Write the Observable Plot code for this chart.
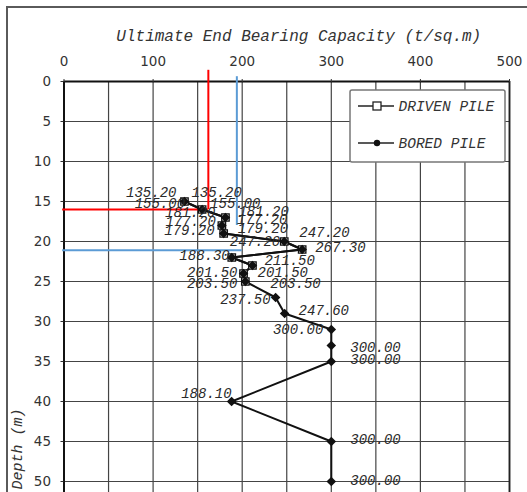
<!DOCTYPE html>
<html><head><meta charset="utf-8">
<script src="https://cdn.jsdelivr.net/npm/d3@7"></script>
<script src="https://cdn.jsdelivr.net/npm/@observablehq/plot@0.6"></script>
<style>
html,body{margin:0;padding:0;background:#fff;}
#wrap{position:relative;width:527px;height:492px;overflow:hidden;background:#fff;}
#border{position:absolute;left:6px;top:6px;width:700px;height:700px;border:2px solid #5a5a5a;}
#chart{position:absolute;left:0;top:0;}
#legend{position:absolute;left:349px;top:89px;}
#ylabel{position:absolute;left:18px;top:449px;transform:translate(-50%,-50%) rotate(-90deg);
  font-family:"Liberation Mono",monospace;font-style:italic;font-size:15px;color:#333;white-space:nowrap;line-height:1;}
</style></head>
<body><div id="wrap"><div id="border"></div><div id="chart"></div><div id="legend"></div><div id="ylabel"></div></div>
<script>
// ---- data ----
const capacityTicks = [0, 100, 200, 300, 400, 500];
const depthTicks = [0, 5, 10, 15, 20, 25, 30, 35, 40, 45, 50];
const capacityGrid = [0, 50, 100, 150, 200, 250, 300, 350, 400, 450, 500];
const depthGrid = [0, 5, 10, 15, 20, 25, 30, 35, 40, 45, 50];

const boredDepth = [15, 16, 17, 18, 19, 20, 21, 22, 23, 24, 25, 27, 29, 31, 33, 35, 40, 45, 50];
const boredCapacity = [135.2, 155.0, 181.2, 177.2, 179.2, 247.2, 267.3, 188.3, 211.5, 201.5, 203.5, 237.5, 247.6, 300.0, 300.0, 300.0, 188.1, 300.0, 300.0];
const drivenDepth = [15, 16, 17, 18, 19, 20, 21, 22, 23, 24, 25];
const drivenCapacity = [135.2, 155.0, 181.2, 177.2, 179.2, 247.2, 267.3, 188.3, 211.5, 201.5, 203.5];

const leftLabelDepths = [15, 16, 17, 18, 19, 20, 22, 24, 25, 27, 31, 40];
const rightLabelDepths = [15, 16, 17, 18, 19, 20, 21, 23, 24, 25, 29, 33, 35, 45, 50];

// reference guide lines (red, blue)
const redGuideCapacity = [162];
const redGuideDepthRange = [-1.4, 16];
const redGuideDepth = [16];
const blueGuideCapacity = [194];
const blueGuideDepthRange = [-0.6, 18];
const blueGuideDepth = [21.1];
const blueGuideCapacityEnd = [200];

const titleText = "Ultimate End Bearing Capacity (t/sq.m)";
const yLabelText = "Depth (m)";
const seriesNames = ["DRIVEN PILE", "BORED PILE"];

// ---- layout (label nudges in px) ----
const leftNudge = {15:[-8,-9],16:[-17,-6],17:[-10,-5],18:[-6,-4],19:[-9,-3],20:[-4,0],22:[-2,-2],24:[-6,-1],25:[-8,2],27:[-5,2],31:[-8,0],40:[0,-8]};
const rightNudge = {15:[7,-9],16:[8,-6],17:[13,-6],18:[15,-6],19:[14,-5],20:[15,-9],21:[13,-2],23:[12,-5],24:[14,-1],25:[25,2],29:[14,-3],33:[19,2],35:[19,-2],45:[19,-2],50:[19,-1]};

const bored = boredDepth.map((d, i) => ({depth: d, cap: boredCapacity[i]}));
const driven = drivenDepth.map((d, i) => ({depth: d, cap: drivenCapacity[i]}));
const byDepth = new Map(bored.map(p => [p.depth, p]));

const labelFont = {fontFamily: "Liberation Mono, monospace", fontStyle: "italic", fontSize: 14, fill: "#2a2a2a"};

const labelMarks = [];
for (const d of leftLabelDepths) {
  const p = byDepth.get(d);
  const [dx, dy] = leftNudge[d] || [-8, -4];
  labelMarks.push(Plot.text([p], {x: "cap", y: "depth", text: q => q.cap.toFixed(2), textAnchor: "end", dx, dy, ...labelFont}));
}
for (const d of rightLabelDepths) {
  const p = byDepth.get(d);
  const [dx, dy] = rightNudge[d] || [8, -4];
  labelMarks.push(Plot.text([p], {x: "cap", y: "depth", text: q => q.cap.toFixed(2), textAnchor: "start", dx, dy, ...labelFont}));
}

const chart = Plot.plot({
  width: 527, height: 492,
  marginTop: 81, marginLeft: 63.5, marginRight: 18, marginBottom: 0,
  style: {fontFamily: "DejaVu Sans, sans-serif", fontSize: "13.5px", background: "transparent", overflow: "visible"},
  x: {domain: [0, 500]},
  y: {domain: [0, 51.375], reverse: true},
  marks: [
    Plot.ruleX(capacityGrid, {stroke: "#444", strokeWidth: 1.2}),
    Plot.ruleY(depthGrid, {stroke: "#444", strokeWidth: 1.2}),
    Plot.ruleX([capacityGrid[0]], {stroke: "#111", strokeWidth: 2}),
    Plot.ruleX([capacityGrid[capacityGrid.length - 1]], {stroke: "#222", strokeWidth: 1.8}),
    Plot.ruleY([depthGrid[0]], {stroke: "#111", strokeWidth: 2}),
    Plot.axisX({anchor: "top", ticks: capacityTicks, tickSize: 3, tickPadding: 13, label: null, color: "#333", tickFormat: d => String(d)}),
    Plot.axisY({anchor: "left", ticks: depthTicks, tickSize: 3, tickPadding: 10, label: null, color: "#333", tickFormat: d => String(d)}),
    // guides
    Plot.ruleX(redGuideCapacity, {x: d => d, y1: redGuideDepthRange[0], y2: redGuideDepthRange[1], stroke: "#ff0000", strokeWidth: 2}),
    Plot.ruleY(redGuideDepth, {y: d => d, x1: -1.5, x2: redGuideCapacity[0], stroke: "#ff0000", strokeWidth: 2}),
    Plot.ruleX(blueGuideCapacity, {x: d => d, y1: blueGuideDepthRange[0], y2: blueGuideDepthRange[1], stroke: "#5b9bd5", strokeWidth: 2}),
    Plot.ruleY(blueGuideDepth, {y: d => d, x1: -1.5, x2: blueGuideCapacityEnd[0], stroke: "#5b9bd5", strokeWidth: 2}),
    // series
    Plot.line(driven, {x: "cap", y: "depth", stroke: "#111", strokeWidth: 2}),
    Plot.line(bored, {x: "cap", y: "depth", stroke: "#111", strokeWidth: 2}),
    Plot.dot(driven, {x: "cap", y: "depth", symbol: "square", r: 4.2, fill: "white", stroke: "#111", strokeWidth: 1.3}),
    Plot.dot(bored, {x: "cap", y: "depth", symbol: "diamond2", r: 4.3, fill: "#111"}),
    ...labelMarks,
    Plot.text([titleText], {text: d => d, frameAnchor: "top", lineAnchor: "middle", dx: 12, dy: -46, fontFamily: "Liberation Mono, monospace", fontStyle: "italic", fontSize: 16, fill: "#333"})
  ]
});
document.getElementById("chart").appendChild(chart);
document.getElementById("ylabel").textContent = yLabelText;

// legend
const lg = d3.select("#legend").append("svg").attr("width", 157).attr("height", 74);
lg.append("rect").attr("x", 1).attr("y", 1).attr("width", 155).attr("height", 72).attr("rx", 2)
  .attr("fill", "white").attr("stroke", "#777").attr("stroke-width", 1.5);
const rows = [17, 54];
seriesNames.forEach((name, i) => {
  const y = rows[i];
  lg.append("line").attr("x1", 9).attr("x2", 45).attr("y1", y).attr("y2", y).attr("stroke", "#222").attr("stroke-width", 1.6);
  if (i === 0) {
    lg.append("rect").attr("x", 24).attr("y", y - 4).attr("width", 8).attr("height", 8).attr("fill", "white").attr("stroke", "#222").attr("stroke-width", 1.3);
  } else {
    lg.append("circle").attr("cx", 28).attr("cy", y).attr("r", 3.2).attr("fill", "#111");
  }
  lg.append("text").attr("x", 49.5).attr("y", y).attr("dy", "0.35em")
    .attr("font-family", "Liberation Mono, monospace").attr("font-style", "italic").attr("font-size", 14.5)
    .attr("fill", "#333").text(name);
});
</script>
</body></html>
